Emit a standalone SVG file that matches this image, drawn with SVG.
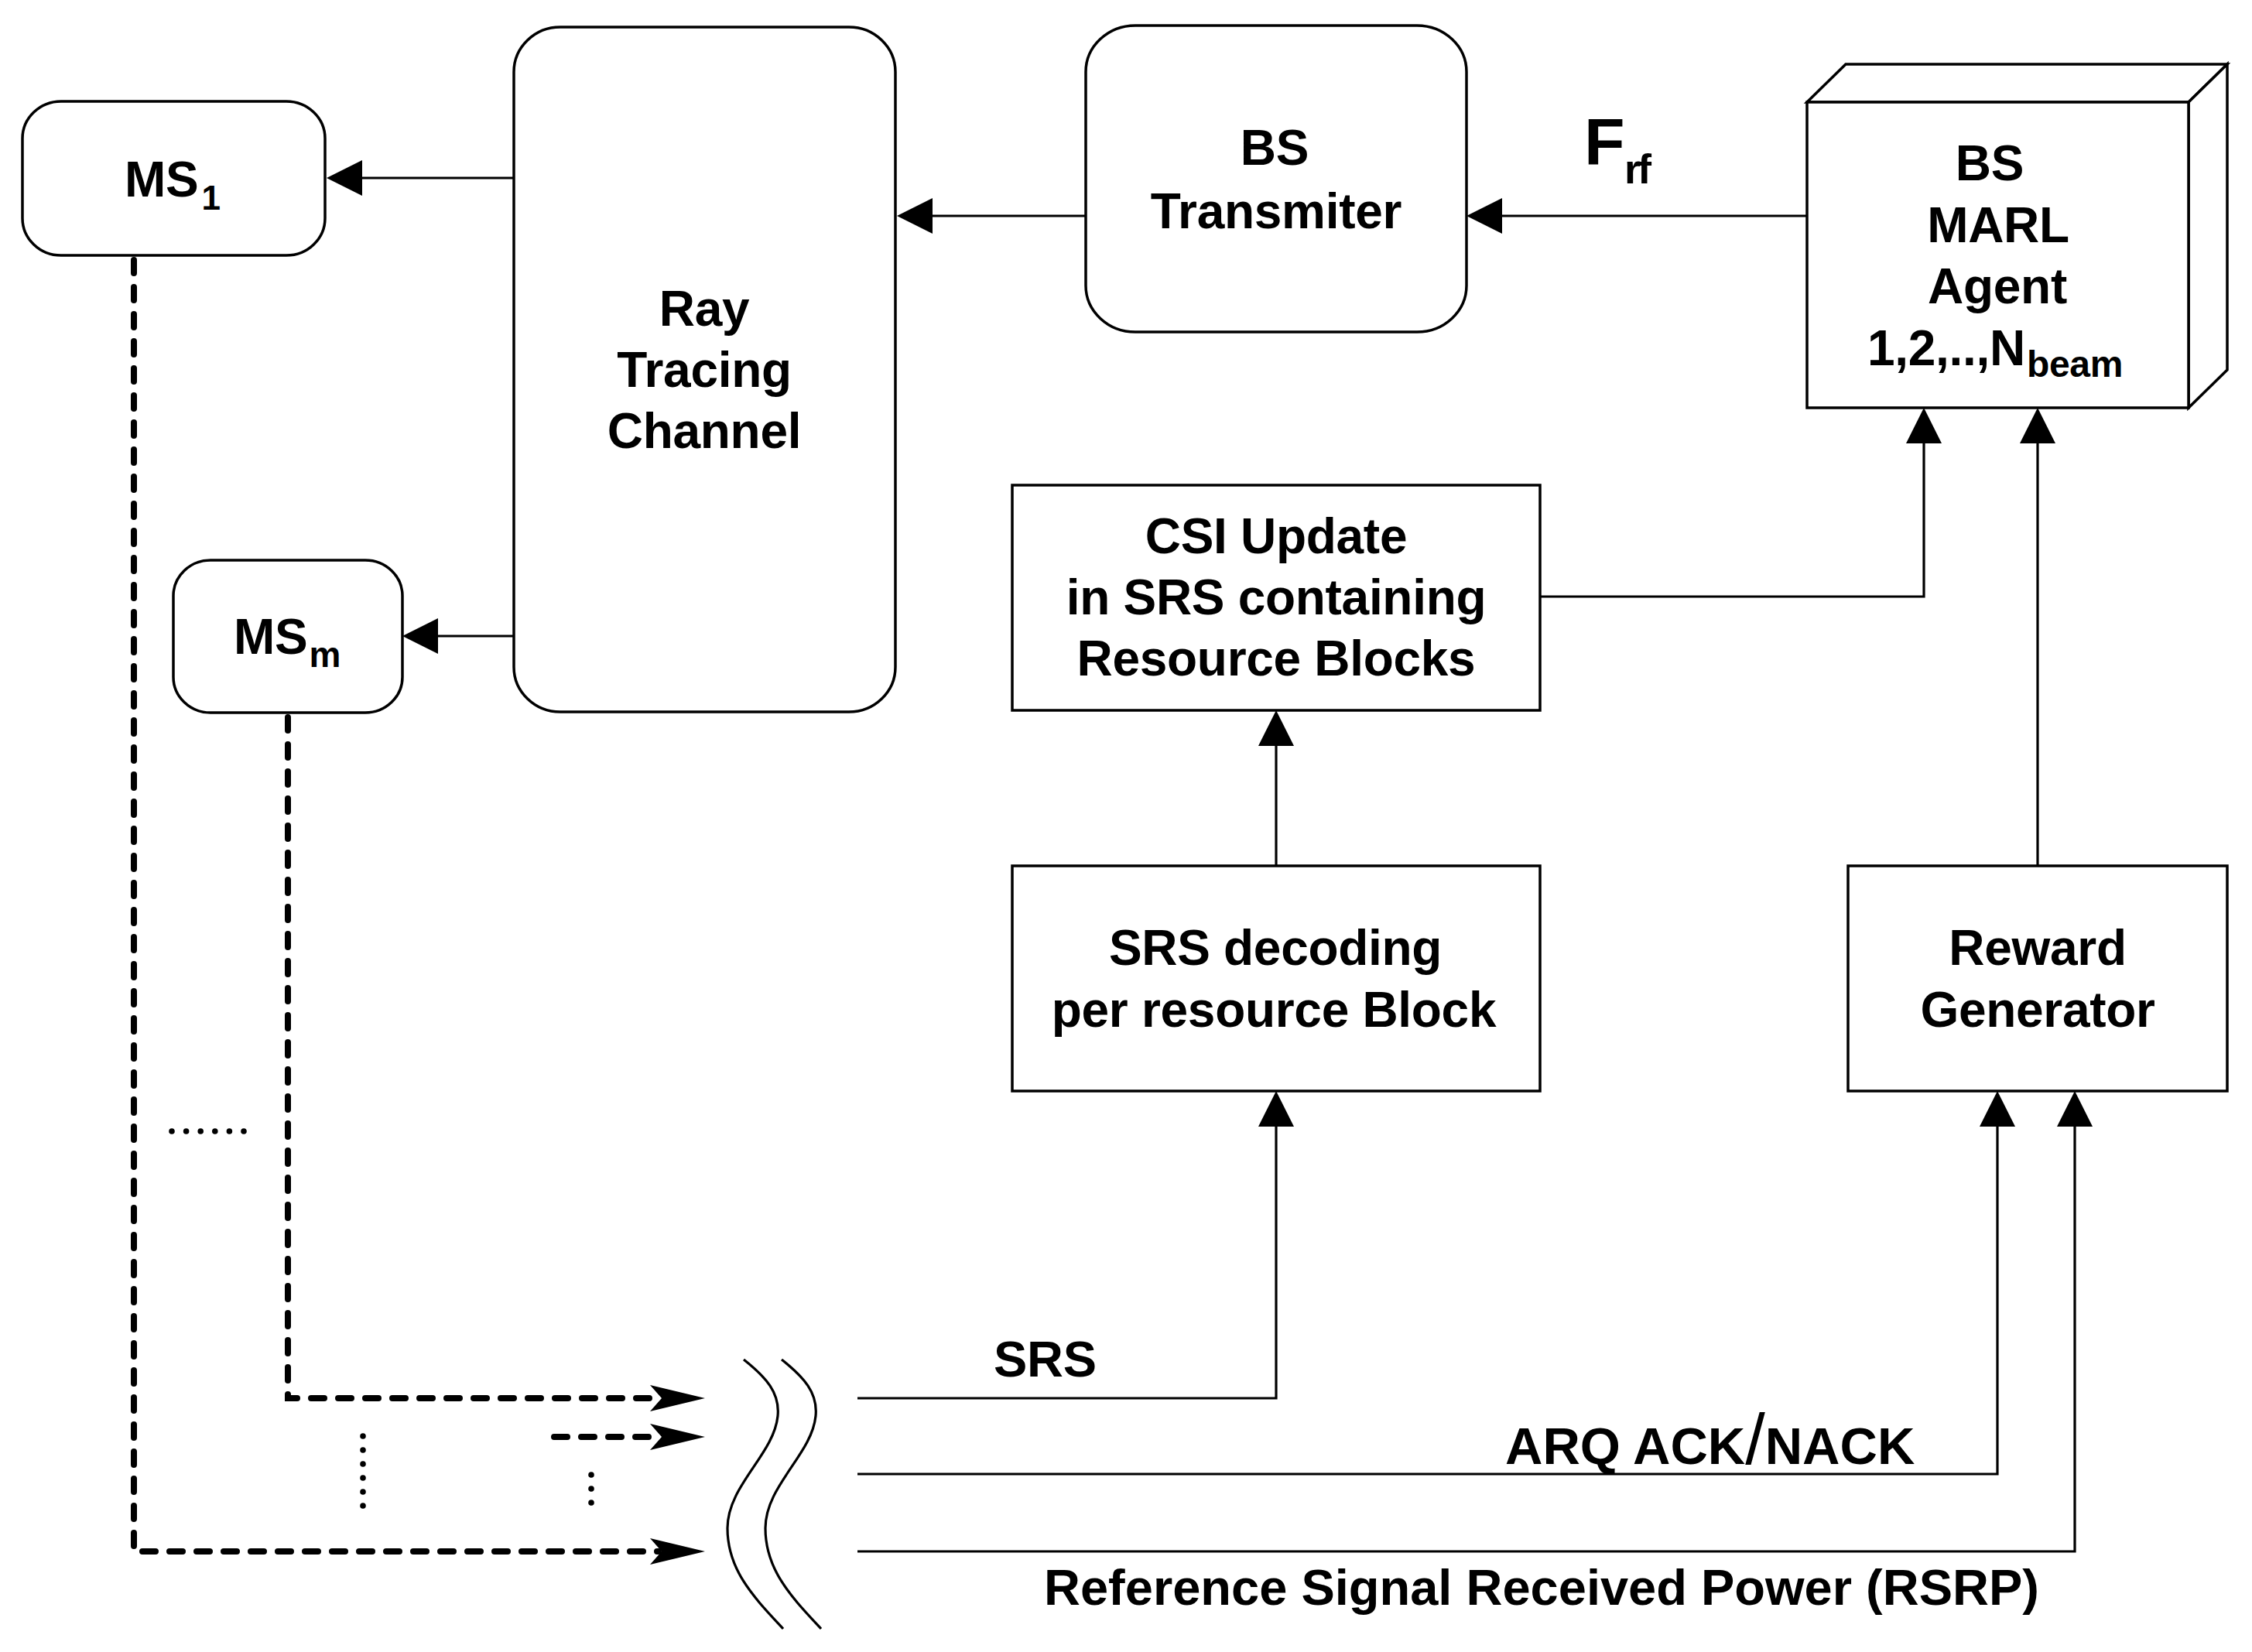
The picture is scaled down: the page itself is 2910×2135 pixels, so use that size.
<svg xmlns="http://www.w3.org/2000/svg" width="2910" height="2135" viewBox="0 0 2910 2135">
<defs>
<style>
.box{fill:#fff;stroke:#000;stroke-width:3.5}
.ln{fill:none;stroke:#000;stroke-width:3.2}
.dash{fill:none;stroke:#000;stroke-width:8;stroke-dasharray:17 18;stroke-linecap:round}
.wave{fill:none;stroke:#000;stroke-width:3.2}
.t{font-family:"Liberation Sans",Arial,sans-serif;font-weight:bold;font-size:64px;fill:#000;letter-spacing:-0.3px}
.c{text-anchor:middle}
.dot{fill:#000}
</style>
<marker id="ah" markerUnits="userSpaceOnUse" markerWidth="48" markerHeight="48" refX="0" refY="23" orient="auto" viewBox="0 0 48 46">
<path d="M0,0 L46,23 L0,46 Z" fill="#000"/>
</marker>
</defs>
<rect width="2910" height="2135" fill="#fff"/>

<g id="connectors">
<path class="ln" d="M664,230 H468" marker-end="url(#ah)"/>
<path class="ln" d="M664,822 H566" marker-end="url(#ah)"/>
<path class="ln" d="M1403,279 H1205" marker-end="url(#ah)"/>
<path class="ln" d="M2335,279 H1941" marker-end="url(#ah)"/>
<path class="ln" d="M1649,1119 V964" marker-end="url(#ah)"/>
<path class="ln" d="M1990,771 H2486 V573" marker-end="url(#ah)"/>
<path class="ln" d="M2633,1119 V573" marker-end="url(#ah)"/>
<path class="ln" d="M1108,1807 H1649 V1456" marker-end="url(#ah)"/>
<path class="ln" d="M1108,1905 H2581 V1456" marker-end="url(#ah)"/>
<path class="ln" d="M1108,2005 H2681 V1456" marker-end="url(#ah)"/>
<path class="dash" d="M173,336 V2005 H851"/>
<path class="dash" d="M372,927 V1807 H851"/>
<path class="dash" d="M716,1857 H851"/>
<path d="M911,1807 L840,1790 L855,1807 L840,1824 Z" fill="#000"/>
<path d="M911,1857 L840,1840 L855,1857 L840,1874 Z" fill="#000"/>
<path d="M911,2005 L840,1988 L855,2005 L840,2022 Z" fill="#000"/>
<path class="wave" d="M961,1757 C990,1780 1008,1800 1005,1830 C1000,1880 940,1920 940,1975 C940,2030 975,2065 1012,2105"/>
<path class="wave" d="M1010,1757 C1039,1780 1057,1800 1054,1830 C1049,1880 989,1920 989,1975 C989,2030 1024,2065 1061,2105"/>
<g id="dots">
<circle class="dot" cx="222" cy="1462" r="3.8"/><circle class="dot" cx="240.6" cy="1462" r="3.8"/><circle class="dot" cx="259.2" cy="1462" r="3.8"/><circle class="dot" cx="277.8" cy="1462" r="3.8"/><circle class="dot" cx="296.4" cy="1462" r="3.8"/><circle class="dot" cx="315" cy="1462" r="3.8"/>
<circle class="dot" cx="469" cy="1856" r="3.8"/><circle class="dot" cx="469" cy="1874" r="3.8"/><circle class="dot" cx="469" cy="1892" r="3.8"/><circle class="dot" cx="469" cy="1910" r="3.8"/><circle class="dot" cx="469" cy="1928" r="3.8"/><circle class="dot" cx="469" cy="1946" r="3.8"/>
<circle class="dot" cx="764" cy="1906" r="3.8"/><circle class="dot" cx="764" cy="1924" r="3.8"/><circle class="dot" cx="764" cy="1942" r="3.8"/>
</g>
<text class="t" x="1284" y="1779" style="font-size:65px">SRS</text>
<text class="t" x="1945" y="1892" style="font-size:67px;letter-spacing:0px">ARQ ACK<tspan style="font-size:92px;font-weight:normal">/</tspan>NACK</text>
<text class="t" x="1349" y="2074" style="font-size:65px;letter-spacing:0px">Reference Signal Received Power (RSRP)</text>
<text class="t" x="2047" y="213" style="font-size:86px">F</text>
<text class="t" x="2099" y="237" style="font-size:54px;letter-spacing:-4px">rf</text>
</g>

<g id="ms1">
<rect class="box" x="29" y="131" width="391" height="199" rx="50" ry="48"/>
<text class="t" x="161" y="254">MS<tspan style="font-size:44px" dy="17" dx="4">1</tspan></text>
</g>

<g id="msm">
<rect class="box" x="224" y="724" width="296" height="197" rx="48" ry="46"/>
<text class="t" x="302" y="845">MS<tspan style="font-size:46px" dy="17" dx="2">m</tspan></text>
</g>

<g id="ray-tracing">
<rect class="box" x="664" y="35" width="493" height="885" rx="60" ry="58"/>
<text class="t c" x="910" y="421">Ray</text>
<text class="t c" x="910" y="500">Tracing</text>
<text class="t c" x="910" y="579">Channel</text>
</g>

<g id="bs-transmitter">
<rect class="box" x="1403" y="33" width="492" height="396" rx="64" ry="60"/>
<text class="t c" x="1647" y="213">BS</text>
<text class="t c" x="1649" y="295">Transmiter</text>
</g>

<g id="bs-marl-agent">
<path class="box" d="M2335,132 L2385,83 L2878,83 L2828,132 Z"/>
<path class="box" d="M2828,132 L2878,83 L2878,478 L2828,527 Z"/>
<rect class="box" x="2335" y="132" width="493" height="395"/>
<text class="t c" x="2571" y="233">BS</text>
<text class="t c" x="2582" y="313">MARL</text>
<text class="t c" x="2581" y="392">Agent</text>
<text class="t" x="2413" y="472">1,2,..,N<tspan style="font-size:48px" dy="15" dx="2">beam</tspan></text>
</g>

<g id="csi-update">
<rect class="box" x="1308" y="627" width="682" height="291"/>
<text class="t c" x="1649" y="715">CSI Update</text>
<text class="t c" x="1649" y="794">in SRS containing</text>
<text class="t c" x="1649" y="873">Resource Blocks</text>
</g>

<g id="srs-decoding">
<rect class="box" x="1308" y="1119" width="682" height="291"/>
<text class="t c" x="1648" y="1247">SRS decoding</text>
<text class="t c" x="1646" y="1327">per resource Block</text>
</g>

<g id="reward-generator">
<rect class="box" x="2388" y="1119" width="490" height="291"/>
<text class="t c" x="2633" y="1247">Reward</text>
<text class="t c" x="2633" y="1327">Generator</text>
</g>
</svg>
